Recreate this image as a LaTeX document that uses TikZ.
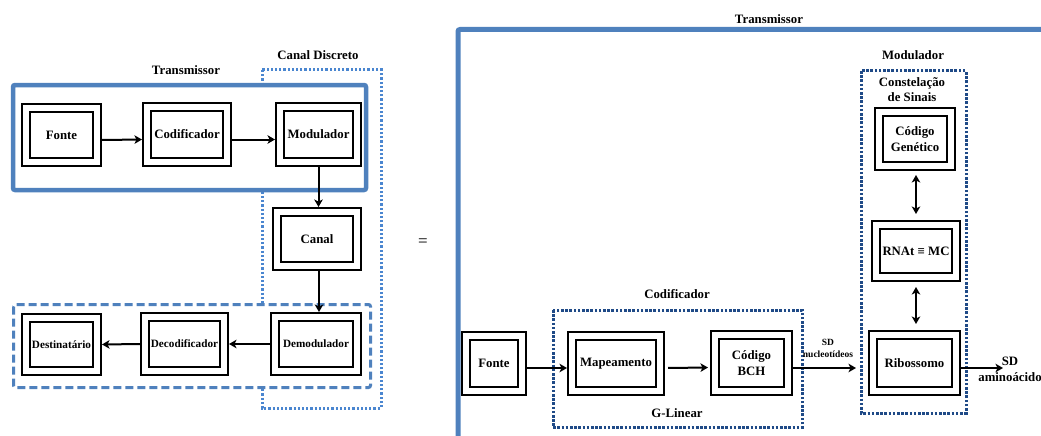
\documentclass[tikz,border=0pt]{standalone}
\usepackage{fontspec}
\setmainfont{Liberation Serif}
\usetikzlibrary{arrows.meta}

\definecolor{frameblue}{HTML}{4F81BD}
\definecolor{dotblue}{HTML}{4A86D0}
\definecolor{navy}{HTML}{1F4A87}
\definecolor{eqgray}{HTML}{444444}

\tikzset{
  outerbox/.style={draw, line width=2.2pt, fill=white, inner sep=0pt},
  innerbox/.style={draw, line width=2pt, inner sep=0pt, align=center,
    font=\bfseries\fontsize{12.8}{16}\selectfont},
  smallin/.style={font=\bfseries\fontsize{11.2}{13}\selectfont},
  lbl/.style={inner sep=0pt, align=center, font=\bfseries\fontsize{12.8}{15.5}\selectfont},
  tinylbl/.style={inner sep=0pt, align=center, font=\bfseries\fontsize{9.5}{11.5}\selectfont},
  tip/.tip={Stealth[length=7.5pt,width=8.5pt,inset=2pt]},
  arr/.style={line width=2pt, -tip},
  darr/.style={line width=2pt, tip-tip},
  thickframe/.style={draw=frameblue, line width=4.5pt, rounded corners=2pt, fill=white},
  rxframe/.style={draw=frameblue, line width=3pt, rounded corners=2pt, fill=white,
    dash pattern=on 8pt off 4pt},
  lightdots/.style={draw=dotblue, line width=3pt, dash pattern=on 2.2pt off 2pt},
  navydots/.style={draw=navy, line width=3pt, dash pattern=on 2.6pt off 1.6pt},
}

% block with an outer and an inner frame: [inner options]{name}{x}{y}{outer w}{outer h}{text}
\newcommand{\dblk}[7][]{%
  \node[outerbox, minimum width=#5-2.2, minimum height=#6-2.2] (#2) at (#3,#4) {};
  \node[innerbox, #1, minimum width=#5-18, minimum height=#6-18] (#2-in) at (#3,#4) {#7};
}

\begin{document}
\begin{tikzpicture}[x=1pt, y=-1pt]
\clip (0,0) rectangle (1041,436);

% ---------------- communication chain ----------------
\node[lbl] (lblCanal) at (318,55) {Canal Discreto};
\node[lbl] (lblTxL) at (186,70) {Transmissor};
\draw[lightdots] (262,70) rectangle (381,408);
\draw[thickframe] (13,85) rectangle (366,190);
\draw[rxframe] (13.5,304.5) rectangle (370.5,387.5);

\dblk{fonteL}{61.5}{135}{81}{64}{Fonte}
\dblk{codL}{187}{134.5}{90}{65}{Codificador}
\dblk{modL}{318.5}{134.5}{87}{65}{Modulador}
\dblk{canal}{317}{239}{90}{64}{Canal}
\dblk[smallin]{demod}{316}{344}{92}{64}{Demodulador}
\dblk[smallin]{decod}{184.5}{344}{89}{64}{Decodificador}
\dblk[smallin]{dest}{61.5}{344.5}{81}{63}{Destinatário}

\draw[arr] ([yshift=-5pt]fonteL.east) -- ([yshift=-5pt]codL.west);
\draw[arr] ([yshift=-5pt]codL.east) -- ([yshift=-5pt]modL.west);
\draw[arr] (modL.south) -- (modL.south |- canal.north);
\draw[arr] ([xshift=2pt]canal.south) -- ([xshift=2pt]canal.south |- demod.north);
\draw[arr] (demod.west) -- (decod.east);
\draw[arr] (decod.west) -- (dest.east);

\node[inner sep=0pt, text=eqgray, font=\bfseries\fontsize{17}{17}\selectfont] (eq) at (423,243) {=};

% ---------------- genetic transmitter ----------------
\node[lbl] (lblTxR) at (769,19) {Transmissor};
\draw[draw=frameblue, line width=5pt, rounded corners=2pt] (458,29.5) rectangle (1070,470);

\node[lbl] (lblMod) at (913,55) {Modulador};
\draw[navydots] (861,71) rectangle (966,413);
\node[lbl] (lblConst) at (912,89.5) {Constelação\\de Sinais};

\node[lbl] (lblCod) at (677,294) {Codificador};
\draw[navydots] (553,310) rectangle (802,427.5);
\node[lbl] (lblGL) at (677,413) {G-Linear};

\dblk{codgen}{915}{139}{82}{64}{Código\\Genético}
\dblk{rnat}{916}{251}{90}{62}{RNAt ≡ MC}
\dblk{rib}{914.5}{363}{93}{66}{Ribossomo}

\dblk{fonteR}{494}{363.5}{66}{65}{Fonte}
\dblk{map}{616}{363.5}{98}{65}{Mapeamento}
\dblk{bch}{751.5}{363}{83}{66}{Código\\BCH}

\draw[arr] ([yshift=-4.5pt]fonteR.east) -- ([yshift=-4.5pt]map.west);
\draw[arr, shorten <=3pt, shorten >=2pt] ([yshift=-4.5pt]map.east) -- ([yshift=-4.5pt]bch.west);
\draw[arr, shorten >=12pt] ([yshift=-5pt]bch.east) -- ([yshift=-5pt]rib.west);
\node[tinylbl] (lblNuc) at (828,348.5) {SD\\nucleotídeos};

\draw[darr, shorten <=4pt, shorten >=6pt] ([xshift=1pt]codgen.south) -- ([xshift=1pt]codgen.south |- rnat.north);
\draw[darr, shorten <=5pt, shorten >=6pt] (rnat.south) -- (rnat.south |- rib.north);

\coordinate (outEnd) at (1003,368);
\draw[arr] (rib.east |- outEnd) -- (outEnd);
\node[lbl, anchor=north] (lblAmino) at (1010,357) {SD\\aminoácido};
\end{tikzpicture}
\end{document}
